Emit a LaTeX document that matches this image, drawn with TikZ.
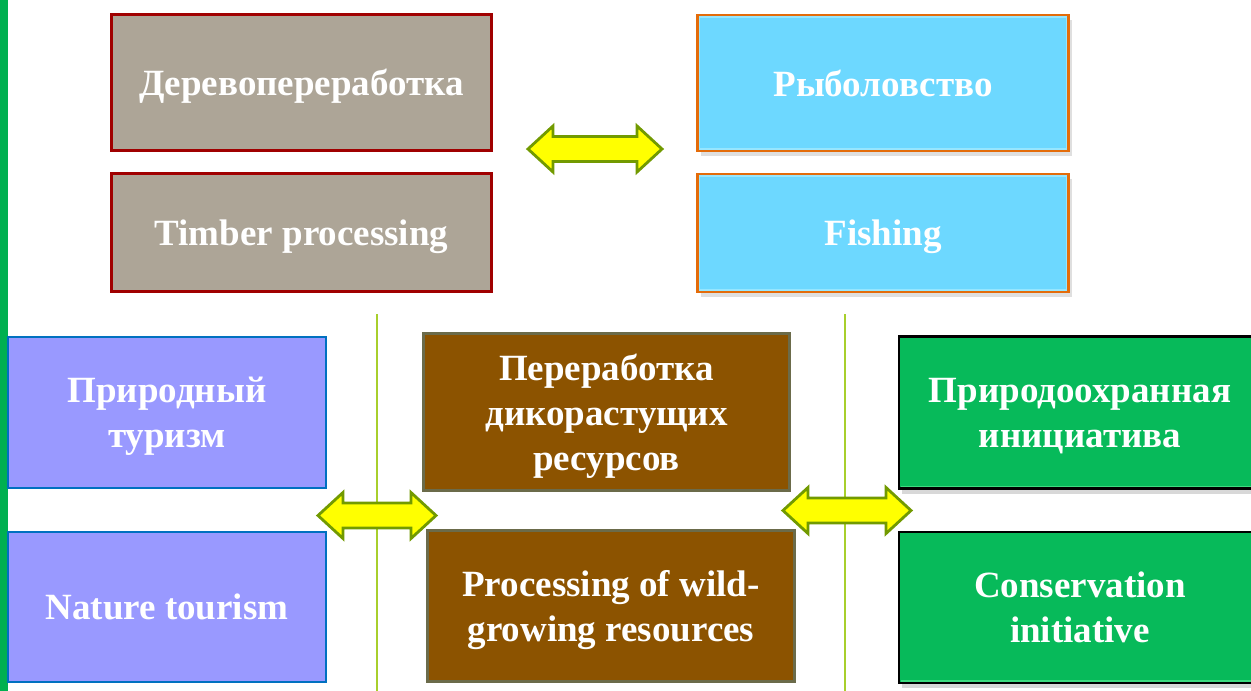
\documentclass[tikz,border=0pt]{standalone}
\usepackage{fontspec}
\setmainfont{Liberation Serif}
\usetikzlibrary{shadows}
\definecolor{barG}{HTML}{00B050}
\definecolor{timberF}{HTML}{ADA597}
\definecolor{timberD}{HTML}{A00000}
\definecolor{fishF}{HTML}{6DD8FF}
\definecolor{fishD}{HTML}{E46C0A}
\definecolor{fishL}{HTML}{96E6FF}
\definecolor{tourF}{HTML}{9999FF}
\definecolor{tourD}{HTML}{0070C0}
\definecolor{wildF}{HTML}{8C5300}
\definecolor{wildD}{HTML}{6B6B4A}
\definecolor{consF}{HTML}{07BA5A}
\definecolor{consL}{HTML}{3DDB80}
\definecolor{arrF}{HTML}{FFFF00}
\definecolor{arrD}{HTML}{729A00}
\definecolor{vline}{HTML}{A8CF2C}
\tikzset{
  box/.style={rectangle, inner sep=0pt, align=center, text=white, text depth=0pt,
    font=\fontsize{37}{45}\selectfont\bfseries},
  timberbox/.style={box, fill=timberF, draw=timberD, line width=2.6pt},
  fishbox/.style={box, fill=fishF, draw=fishD, line width=2.4pt,
    drop shadow={opacity=0.25, shadow xshift=3pt, shadow yshift=-5pt}},
  tourbox/.style={box, fill=tourF, draw=tourD, line width=2pt},
  wildbox/.style={box, fill=wildF, draw=wildD, line width=2.8pt},
  consbox/.style={box, fill=consF, draw=black, line width=2.2pt,
    drop shadow={opacity=0.3, shadow xshift=3pt, shadow yshift=-5pt}},
  dblarr/.style={fill=arrF, draw=arrD, line width=2.8pt, line join=miter},
  divider/.style={draw=vline, line width=1.6pt}
}
\newcommand{\dblarrow}[3]{%
  \draw[dblarr] (#1,#3) -- ({#1+25},{#3-23}) -- ({#1+25},{#3-12.5})
    -- ({#2-25},{#3-12.5}) -- ({#2-25},{#3-23}) -- (#2,#3)
    -- ({#2-25},{#3+23}) -- ({#2-25},{#3+12.5}) -- ({#1+25},{#3+12.5})
    -- ({#1+25},{#3+23}) -- cycle;}
\begin{document}
\begin{tikzpicture}[x=1pt,y=-1pt]
\useasboundingbox (0,0) rectangle (1251,691);
\clip (0,0) rectangle (1251,691);
\fill[white] (0,0) rectangle (1251,691);
% left green bar
\fill[barG] (0,0) rectangle (8,691);
% dividers
\coordinate (d1t) at (377,314); \coordinate (d1b) at (377,691);
\coordinate (d2t) at (845,314); \coordinate (d2b) at (845,691);
\draw[divider] (d1t) -- (d1b);
\draw[divider] (d2t) -- (d2b);
% top left
\node[timberbox, minimum width=380, minimum height=136] (wood1) at (301.5,82.5) {Деревопереработка};
\node[timberbox, minimum width=380, minimum height=118] (wood2) at (301.5,232.5) {Timber processing};
% top right
\node[fishbox, minimum width=371, minimum height=136] (fish1) at (883,83) {Рыболовство};
\node[fishbox, minimum width=371, minimum height=118] (fish2) at (883,233) {Fishing};
\foreach \n in {fish1,fish2}{
  \draw[fishL, line width=1.5pt] ([shift={(3pt,3pt)}]\n.south west) rectangle ([shift={(-3pt,-3pt)}]\n.north east);
}
% bottom left
\node[tourbox, minimum width=318, minimum height=151] (tour1) at (167,412.5) {Природный\\туризм};
\node[tourbox, minimum width=318, minimum height=150] (tour2) at (167,607) {Nature tourism};
% bottom middle
\node[wildbox, minimum width=366, minimum height=157] (wild1) at (606.5,412) {Переработка\\дикорастущих\\ресурсов};
\node[wildbox, minimum width=367, minimum height=151] (wild2) at (611,606) {Processing of wild-\\growing resources};
% bottom right
\node[consbox, minimum width=362, minimum height=152] (cons1) at (1080,412.5) {Природоохранная\\инициатива};
\node[consbox, minimum width=362, minimum height=151] (cons2) at (1080,607.5) {Conservation\\initiative};
\foreach \n in {cons1,cons2}{
  \draw[consL, line width=1.5pt] ([shift={(3pt,3pt)}]\n.south west) -- ([shift={(-3pt,3pt)}]\n.south east);
}
% double arrows
\dblarrow{528}{662}{149}
\dblarrow{318}{436}{515.5}
\dblarrow{783}{911}{510.5}
\end{tikzpicture}
\end{document}
